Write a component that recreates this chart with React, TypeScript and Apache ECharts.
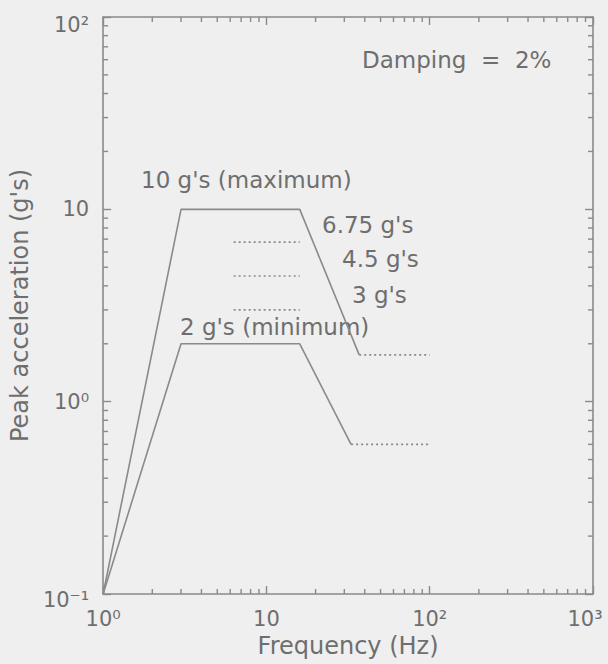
import React, { useEffect, useRef } from "react";
import * as echarts from "echarts";

// Required response spectra (peak acceleration vs. frequency, log-log)
const maxFreq = [1, 3, 16, 37];
const maxAccel = [0.1, 10, 10, 1.75];
const maxTailFreq = [37, 100];
const maxTailAccel = [1.75, 1.75];

const minFreq = [1, 3, 16, 33];
const minAccel = [0.1, 2, 2, 0.6];
const minTailFreq = [33, 100];
const minTailAccel = [0.6, 0.6];

// Intermediate test levels (g's), drawn over the plateau
const levelValues = [6.75, 4.5, 3];
const levelFreq = [6.3, 16];

const xTickLabels: Record<string, string> = { "1": "10⁰", "10": "10", "100": "10²", "1000": "{last|10³}" };
const yTickLabels: Record<string, string> = { "0.1": "{low|10⁻¹}", "1": "10⁰", "10": "10", "100": "{high|10²}" };

// Minor (2..9) tick positions for each decade
const decadeMinors = (lo: number, hi: number) => {
  const out: number[] = [];
  for (let d = lo; d < hi; d *= 10) {
    for (let k = 2; k <= 9; k++) out.push(+(k * d).toPrecision(3));
  }
  return out;
};
const xMinorTicks = decadeMinors(1, 1000);
const yMinorTicks = decadeMinors(0.1, 100);

const INK = "#8a8a8a";
const TEXT = "#6e6e6e";
const FONT = "DejaVu Sans";

const zip = (xs: number[], ys: number[]) => xs.map((x, i) => [x, ys[i]]);

export default function App() {
  const ref = useRef<HTMLDivElement>(null);

  useEffect(() => {
    if (!ref.current) return;
    const chart = echarts.init(ref.current, undefined, { renderer: "svg" });

    const solid = { color: INK, width: 1.6, type: "solid" as const };
    const dotted = { color: INK, width: 1.6, type: [2, 3] as any };

    const lineSeries = (data: number[][], style: any) => ({
      type: "line",
      data,
      showSymbol: false,
      symbol: "none",
      lineStyle: style,
      silent: true,
      xAxisIndex: 0,
      yAxisIndex: 0,
    });

    const tickLen = 5;
    const minorTicks = {
      type: "custom",
      coordinateSystem: "cartesian2d",
      xAxisIndex: 0,
      yAxisIndex: 0,
      clip: false,
      silent: true,
      data: [[1, 1]],
      renderItem: (_params: any, api: any) => {
        const children: any[] = [];
        const seg = (x1: number, y1: number, x2: number, y2: number) =>
          children.push({
            type: "line",
            shape: { x1, y1, x2, y2 },
            style: { stroke: INK, lineWidth: 1.4 },
          });
        yMinorTicks.forEach((v) => {
          const l = api.coord([1, v]);
          const r = api.coord([1000, v]);
          seg(l[0], l[1], l[0] + tickLen, l[1]);
          seg(r[0], r[1], r[0] - tickLen, r[1]);
        });
        xMinorTicks.forEach((v) => {
          const b = api.coord([v, 0.1]);
          const t = api.coord([v, 100]);
          seg(b[0], b[1], b[0], b[1] - tickLen);
          seg(t[0], t[1], t[0], t[1] + tickLen);
        });
        return { type: "group", children };
      },
    };

    const axisCommon = {
      type: "log" as const,
      logBase: 10,
      axisLine: { show: true, lineStyle: { color: INK, width: 1.6 } },
      axisTick: { show: true, inside: true, length: 8, lineStyle: { color: INK, width: 1.4 } },
      splitLine: { show: false },
      minorTick: { show: false },
    };

    const tickText = { color: TEXT, fontSize: 21, fontFamily: FONT };

    const textEl = (text: string, x: number, y: number) => ({
      type: "text",
      x,
      y,
      silent: true,
      style: {
        text,
        fill: TEXT,
        fontSize: 23,
        fontFamily: FONT,
        verticalAlign: "middle",
        align: "left",
      },
    });

    chart.setOption({
      animation: false,
      backgroundColor: "#efefef",
      grid: { left: 102, right: 15, top: 17, bottom: 70, containLabel: false },
      xAxis: [
        {
          ...axisCommon,
          position: "bottom",
          min: 1,
          max: 1000,
          name: "Frequency (Hz)",
          nameLocation: "middle",
          nameGap: 40,
          nameTextStyle: { color: TEXT, fontSize: 24, fontFamily: FONT },
          axisLabel: {
            ...tickText,
            margin: 14,
            formatter: (v: number) => xTickLabels[String(v)] ?? "",
            rich: { last: { ...tickText, padding: [0, 16, 0, 0] } },
          },
        },
        {
          ...axisCommon,
          position: "top",
          min: 1,
          max: 1000,
          axisLabel: { show: false },
        },
      ],
      yAxis: [
        {
          ...axisCommon,
          position: "left",
          min: 0.1,
          max: 100,
          name: "Peak acceleration (g's)",
          nameLocation: "middle",
          nameGap: 68,
          nameRotate: 90,
          nameTextStyle: { color: TEXT, fontSize: 24, fontFamily: FONT },
          axisLabel: {
            ...tickText,
            margin: 14,
            formatter: (v: number) => yTickLabels[String(v)] ?? "",
            rich: {
              high: { ...tickText, padding: [16, 0, 0, 0] },
              low: { ...tickText, padding: [12, 0, 0, 0] },
            },
          },
        },
        {
          ...axisCommon,
          position: "right",
          min: 0.1,
          max: 100,
          axisLabel: { show: false },
        },
      ],
      series: [
        lineSeries(zip(maxFreq, maxAccel), solid),
        lineSeries(zip(maxTailFreq, maxTailAccel), dotted),
        lineSeries(zip(minFreq, minAccel), solid),
        lineSeries(zip(minTailFreq, minTailAccel), dotted),
        ...levelValues.map((g) => lineSeries(levelFreq.map((f) => [f, g]), dotted)),
        minorTicks,
      ],
      graphic: [
        textEl("Damping  =  2%", 362, 60),
        textEl("10 g's (maximum)", 141, 180),
        textEl("6.75 g's", 322, 225),
        textEl("4.5 g's", 342, 259),
        textEl("3 g's", 352, 295),
        textEl("2 g's (minimum)", 180, 327),
      ],
    });

    return () => chart.dispose();
  }, []);

  return (
    <div
      ref={ref}
      style={{ position: "absolute", left: 0, top: 0, width: 608, height: 664 }}
    />
  );
}
